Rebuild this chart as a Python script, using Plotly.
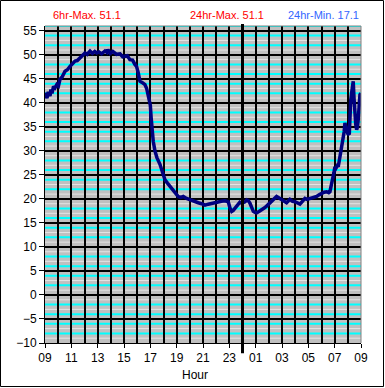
import plotly.graph_objects as go

# ---- data (hours since 00:00 of day 1) ----
hours = [9.00, 9.08, 9.15, 9.25, 9.38, 9.45, 9.53, 9.65, 9.76, 9.90, 10.02, 10.14, 10.30,
         10.52, 10.70, 10.90, 11.08, 11.28, 11.45, 11.66, 11.85, 12.04, 12.20, 12.42,
         12.60, 12.78, 12.93, 13.10, 13.30, 13.56, 13.70, 13.78, 13.95, 14.15, 14.44,
         14.70, 14.90, 15.07, 15.25, 15.45, 15.65, 15.83, 15.95, 16.08, 16.15, 16.21,
         16.40, 16.59, 16.72, 16.84, 16.93, 17.00, 17.06, 17.12, 17.22, 17.35, 17.50,
         17.73, 17.90, 18.11, 18.30, 18.49, 18.70, 18.87, 19.00, 19.12, 19.30, 19.50,
         19.75, 20.01, 20.30, 20.64, 20.90, 21.15, 21.40, 21.66, 21.90, 22.16, 22.40,
         22.67, 22.92, 23.05, 23.18, 23.30, 23.43, 23.55, 23.68, 23.80, 23.94, 24.19,
         24.32, 24.45, 24.57, 24.70, 24.82, 24.95, 25.07, 25.25, 25.45, 25.65, 25.83,
         26.00, 26.21, 26.40, 26.59, 26.78, 26.97, 27.15, 27.35, 27.60, 27.80, 27.98,
         28.15, 28.36, 28.55, 28.74, 28.90, 29.12, 29.35, 29.63, 29.85, 30.01, 30.20,
         30.39, 30.55, 30.64, 30.77, 30.86, 30.94, 31.02, 31.10, 31.20, 31.27, 31.34,
         31.40, 31.47, 31.53, 31.60, 31.65, 31.72, 31.78, 31.85, 31.91, 32.00, 32.11,
         32.16, 32.22, 32.29, 32.35, 32.41, 32.47, 32.54, 32.60, 32.67, 32.73, 32.79,
         32.85, 32.92, 33.00]
temps = [42.1, 41.3, 41.0, 42.3, 41.4, 42.8, 42.0, 43.4, 43.1, 43.8, 43.5, 44.9, 45.4,
         46.6, 46.9, 47.6, 48.1, 48.7, 48.8, 49.4, 49.9, 50.4, 50.1, 50.8,
         50.3, 50.7, 50.4, 50.6, 50.2, 50.8, 50.5, 51.1, 50.3, 50.7, 50.1,
         50.2, 49.6, 49.7, 49.8, 49.0, 48.9, 48.0, 47.6, 46.3, 45.6, 44.5,
         44.2, 43.8, 43.0, 41.4, 40.8, 39.5, 37.0, 34.5, 32.0, 30.0, 28.6,
         27.2, 25.6, 24.0, 23.3, 22.6, 22.0, 21.5, 20.9, 20.5, 20.3, 20.5,
         20.1, 19.8, 19.5, 19.2, 19.0, 18.7, 18.9, 19.1, 19.3, 19.4, 19.5,
         19.6, 19.4, 18.1, 17.4, 17.6, 18.1, 18.6, 19.1, 19.3, 19.1, 19.4,
         19.8, 19.6, 19.1, 18.3, 17.4, 17.2, 17.1, 17.4, 17.7, 18.1, 18.5,
         18.9, 19.4, 19.9, 20.5, 20.2, 19.8, 19.5, 19.2, 19.9, 19.5, 19.4,
         19.1, 18.9, 19.5, 20.1, 19.9, 20.1, 20.2, 20.5, 20.9, 21.2, 21.4,
         21.5, 21.3, 21.5, 22.9, 24.0, 25.4, 26.7, 26.4, 26.9, 26.7, 27.8,
         28.8, 29.7, 30.6, 31.5, 32.3, 34.0, 35.8, 35.0, 34.4, 33.6, 33.4,
         38.6, 40.5, 42.1, 43.5, 44.5, 41.0, 37.2, 35.5, 34.4, 35.0, 36.5,
         39.0, 41.7, 42.0]

x_tick_labels = ["09", "11", "13", "15", "17", "19", "21", "23", "01", "03", "05", "07", "09"]
y_range = [-10, 56]
header_texts = ["6hr-Max. 51.1", "24hr-Max. 51.1", "24hr-Min. 17.1"]
header_colors = ["#ff0000", "#ff0000", "#3366ff"]

x_start = 9
x_tickvals = [x_start + 2 * i for i in range(len(x_tick_labels))]

fig = go.Figure()
fig.add_trace(go.Scatter(x=hours, y=temps, mode="lines",
                         line=dict(color="#000080", width=3.5), showlegend=False,
                         hoverinfo="skip"))

shapes = []
# minor horizontal grid lines: even -> cyan, odd -> light
for v in range(y_range[0] + 1, y_range[1] + 1):
    if v % 5 == 0:
        continue
    even = (v % 2 == 0)
    shapes.append(dict(type="line", xref="paper", yref="y", x0=0, x1=1, y0=v, y1=v,
                       layer="below",
                       line=dict(color="#00ffff" if even else "#e4e4e4", width=2 if even else 1)))
# top / right border of plot area in grey
shapes.append(dict(type="line", xref="paper", yref="paper", x0=0, x1=1, y0=1, y1=1,
                   line=dict(color="#808080", width=1)))
shapes.append(dict(type="line", xref="paper", yref="paper", x0=1, x1=1, y0=0, y1=1,
                   line=dict(color="#808080", width=1)))
# midnight line
shapes.append(dict(type="line", xref="x", yref="paper", x0=24, x1=24, y0=-0.032, y1=1.006,
                   line=dict(color="black", width=3)))
# outer frame
shapes.append(dict(type="rect", xref="paper", yref="paper",
                   x0=(0.5 - 45) / 316, x1=(383.5 - 45) / 316,
                   y0=(343 - 386.5) / 317, y1=(343 - 0.5) / 317,
                   line=dict(color="black", width=1), fillcolor="rgba(0,0,0,0)"))

annotations = []
for txt, col, xp in zip(header_texts, header_colors, [0.133, 0.576, 0.880]):
    annotations.append(dict(text=txt, x=xp, y=1.035, xref="paper", yref="paper",
                            showarrow=False, xanchor="center", yanchor="middle",
                            font=dict(family="Liberation Sans, Arial", size=11, color=col)))
annotations.append(dict(text="Hour", x=(195 - 45) / 316, y=(343 - 375) / 317,
                        xref="paper", yref="paper", showarrow=False,
                        xanchor="center", yanchor="middle",
                        font=dict(family="Liberation Sans, Arial", size=12, color="black")))

fig.update_layout(
    width=385, height=388,
    margin=dict(l=45, r=24, t=26, b=45, pad=0),
    paper_bgcolor="white", plot_bgcolor="#c0c0c0",
    shapes=shapes, annotations=annotations,
    font=dict(family="Liberation Sans, Arial", size=12, color="black"),
    xaxis=dict(range=[9, 33], tickmode="array", tickvals=x_tickvals, ticktext=x_tick_labels,
               showgrid=True, gridcolor="black", gridwidth=2,
               minor=dict(tickmode="linear", tick0=9, dtick=1, showgrid=True,
                          gridcolor="black", gridwidth=2),
               ticks="outside", ticklen=4, tickcolor="black", tickwidth=1,
               showline=True, linecolor="black", linewidth=1, zeroline=False,
               tickfont=dict(size=12)),
    yaxis=dict(range=y_range, tickmode="linear", tick0=-10, dtick=5,
               showgrid=True, gridcolor="black", gridwidth=2,
               ticks="outside", ticklen=5, tickcolor="black", tickwidth=1,
               showline=True, linecolor="black", linewidth=1, zeroline=False,
               tickfont=dict(size=12)),
)

fig.write_html("out.html", config={"displayModeBar": False},
               post_script="document.body.style.margin='0';document.body.style.overflow='hidden';")
